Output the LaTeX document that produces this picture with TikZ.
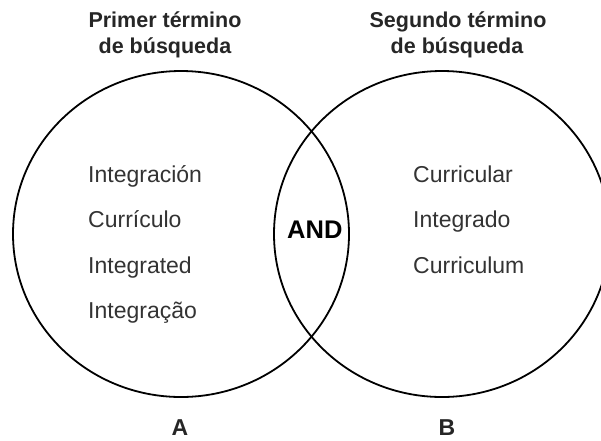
\documentclass[tikz,border=0pt]{standalone}
\usepackage{fontspec}
\setmainfont{Liberation Sans}
\begin{document}
\begin{tikzpicture}[x=1pt,y=-1pt,
  ring/.style={draw=black,line width=1.8pt},
  title/.style={inner sep=0pt,anchor=base,font=\fontsize{21.5}{26}\selectfont\bfseries,text=black!85},
  item/.style={inner sep=0pt,anchor=base west,font=\fontsize{23}{28}\selectfont,text=black!80},
  andlbl/.style={inner sep=0pt,anchor=base west,font=\fontsize{25.5}{30}\selectfont\bfseries},
  setlbl/.style={inner sep=0pt,anchor=base,font=\fontsize{23}{28}\selectfont\bfseries,text=black!85}]
\useasboundingbox (0,0) rectangle (601,440);
\begin{scope}
\clip (0,0) rectangle (601,440);
\draw[ring] (181,234) ellipse [x radius=168, y radius=163];
\draw[ring] (442,234) ellipse [x radius=168, y radius=163];
\end{scope}
\node[title] (t1a) at (165,27) {Primer término};
\node[title] (t1b) at (165,53) {de búsqueda};
\node[title] (t2a) at (458,27) {Segundo término};
\node[title] (t2b) at (457,53) {de búsqueda};
\node[item] (l1) at (88,182) {Integración};
\node[item] (l2) at (88,227) {Currículo};
\node[item] (l3) at (88,273) {Integrated};
\node[item] (l4) at (88,318) {Integração};
\node[item] (r1) at (413,182) {Curricular};
\node[item] (r2) at (413,227) {Integrado};
\node[item] (r3) at (413,273) {Curriculum};
\node[andlbl] (and) at (287,238) {AND};
\node[setlbl] (A) at (180,435) {A};
\node[setlbl] (B) at (447,435) {B};
\end{tikzpicture}
\end{document}
